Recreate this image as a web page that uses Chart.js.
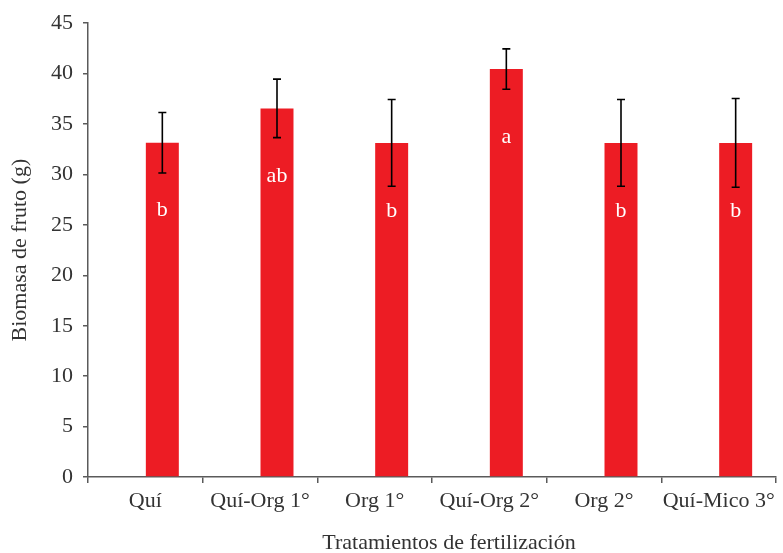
<!DOCTYPE html>
<html>
<head>
<meta charset="utf-8">
<script src="https://cdn.jsdelivr.net/npm/chart.js@4"></script>
<style>
  body { margin: 0; background: #fff; }
  #wrap { width: 783px; height: 553px; }
</style>
</head>
<body>
<div id="wrap"><canvas id="grafico" width="783" height="553"></canvas></div>
<script>
// datos
const tratamientos = ['Quí', 'Quí-Org 1°', 'Org 1°', 'Quí-Org 2°', 'Org 2°', 'Quí-Mico 3°'];
const biomasa = [33.15, 36.55, 33.13, 40.45, 33.13, 33.13];
const errorEst = [3.0, 2.9, 4.3, 2.0, 4.3, 4.4];
const letras = ['b', 'ab', 'b', 'a', 'b', 'b'];
const ticksY = [0, 5, 10, 15, 20, 25, 30, 35, 40, 45];

const fuente = '"Liberation Serif", "DejaVu Serif", serif';
const gris = '#5a5a5a';

// barras de error, letras y titulo del eje x (dataset 1 = biomasa)
const extras = {
    id: 'extras',
    afterDatasetsDraw(chart) {
        const ctx = chart.ctx;
        const y = chart.scales.y;
        const meta = chart.getDatasetMeta(1);
        ctx.save();
        meta.data.forEach((barra, i) => {
            const x = barra.x;
            const arriba = y.getPixelForValue(biomasa[i] + errorEst[i]);
            const abajo = y.getPixelForValue(biomasa[i] - errorEst[i]);
            ctx.strokeStyle = '#000';
            ctx.lineWidth = 1.6;
            ctx.beginPath();
            ctx.moveTo(x, arriba); ctx.lineTo(x, abajo);
            ctx.moveTo(x - 4, arriba); ctx.lineTo(x + 4, arriba);
            ctx.moveTo(x - 4, abajo); ctx.lineTo(x + 4, abajo);
            ctx.stroke();

            ctx.fillStyle = '#fff';
            ctx.font = '22px ' + fuente;
            ctx.textAlign = 'center';
            ctx.textBaseline = 'middle';
            ctx.fillText(letras[i], x, barra.y + 68);
        });
        ctx.restore();
    },
    afterDraw(chart) {
        const ctx = chart.ctx;
        const area = chart.chartArea;
        ctx.save();
        ctx.fillStyle = '#333';
        ctx.font = '22px ' + fuente;
        ctx.textAlign = 'center';
        ctx.textBaseline = 'middle';
        ctx.fillText('Tratamientos de fertilización', (area.left + area.right) / 2 + 17, chart.height - 10);
        ctx.restore();
    }
};

new Chart(document.getElementById('grafico'), {
    type: 'bar',
    data: {
        labels: tratamientos,
        datasets: [
            // serie vacia: solo desplaza las barras a la derecha del centro
            { data: [], backgroundColor: 'rgba(0,0,0,0)' },
            { data: biomasa, backgroundColor: '#ed1c24', borderWidth: 0 }
        ]
    },
    options: {
        responsive: false,
        animation: false,
        datasets: { bar: { categoryPercentage: 0.593, barPercentage: 0.97 } },
        layout: { padding: { top: 22, right: 7, left: 0, bottom: 0 } },
        plugins: { legend: { display: false }, tooltip: { enabled: false } },
        scales: {
            x: {
                offset: true,
                grid: { offset: true, drawOnChartArea: false, tickLength: 6, color: gris, lineWidth: 1.5 },
                border: { color: gris, width: 1.5 },
                ticks: { color: '#333', font: { family: fuente, size: 22 }, padding: 5, maxRotation: 0, autoSkip: false },
                afterFit(scale) { scale.height = 76; }
            },
            y: {
                min: 0,
                max: 45,
                afterBuildTicks(scale) { scale.ticks = ticksY.map(v => ({ value: v })); },
                grid: { drawOnChartArea: false, tickLength: 5, color: gris, lineWidth: 1.5 },
                border: { color: gris, width: 1.5 },
                ticks: { color: '#333', font: { family: fuente, size: 22 }, padding: 10 },
                title: { display: true, text: 'Biomasa de fruto (g)', color: '#333', font: { family: fuente, size: 22 }, padding: { top: 7, bottom: 0 } },
                afterFit(scale) { scale.width = 88; }
            }
        }
    },
    plugins: [extras]
});
</script>
</body>
</html>
